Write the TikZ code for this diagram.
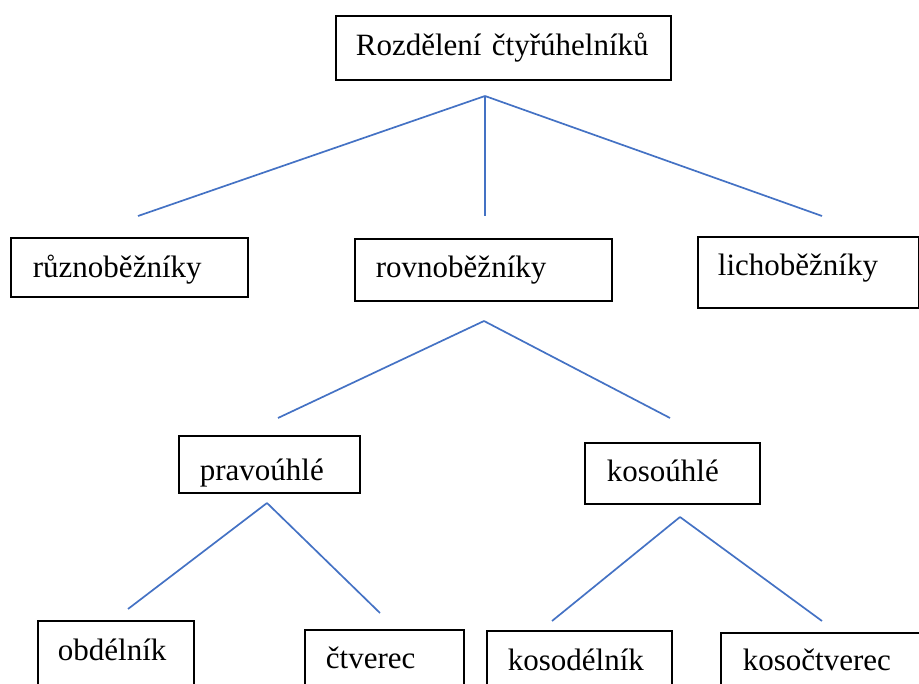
\documentclass[tikz,border=0pt]{standalone}
\usepackage{fontspec}
\setmainfont{Liberation Serif}
\usetikzlibrary{positioning}
\definecolor{linkblue}{HTML}{4472C4}
\newcommand{\catfont}{\fontsize{31}{36}\selectfont}

\begin{document}
\begin{tikzpicture}[x=1pt, y=-1pt,
		catbox/.style={draw, line width=1.8pt, rectangle, anchor=north west,
			align=left, inner ysep=0pt, font=\catfont},
		link/.style={draw=linkblue, line width=1.7pt}]
		\useasboundingbox (0,0) rectangle (919,684);
		\clip (0,0) rectangle (919,684);
		% boxes
		\node[catbox, inner xsep=20pt, text width=295pt, text height=40pt, text depth=24pt]
			(root) at (335,15) {Rozdělení čtyřúhelníků};
		\node[catbox, inner xsep=22pt, text width=193pt, text height=40pt, text depth=19pt]
			(ruzno) at (10,237) {různoběžníky};
		\node[catbox, inner xsep=21pt, text width=215pt, text height=39pt, text depth=23pt]
			(rovno) at (354,238) {rovnoběžníky};
		\node[catbox, inner xsep=20pt, text width=181pt, text height=39pt, text depth=32pt]
			(licho) at (697,236) {lichoběžníky};
		\node[catbox, inner xsep=21pt, text width=139pt, text height=45pt, text depth=12pt]
			(pravo) at (178,435) {pravoúhlé};
		\node[catbox, inner xsep=22pt, text width=131pt, text height=39pt, text depth=22pt]
			(koso) at (584,442) {kosoúhlé};
		\node[catbox, inner xsep=20pt, text width=116pt, text height=40pt, text depth=40pt]
			(obdel) at (37,620) {obdélník};
		\node[catbox, inner xsep=21pt, text width=117pt, text height=39pt, text depth=40pt]
			(ctverec) at (304,629) {čtverec};
		\node[catbox, inner xsep=21pt, text width=143pt, text height=40pt, text depth=40pt]
			(kosodel) at (486,630) {kosodélník};
		\node[catbox, inner xsep=22pt, text width=176pt, text height=38pt, text depth=40pt]
			(kosoct) at (720,632) {kosočtverec};
		% forks
		\coordinate (fork1) at (485,96);
		\coordinate (to11) at (138,216);
		\coordinate (to12) at (485,216);
		\coordinate (to13) at (822,216);
		\coordinate (fork2) at (484,321);
		\coordinate (to21) at (278,418);
		\coordinate (to22) at (670,418);
		\coordinate (fork3) at (267,503);
		\coordinate (to31) at (128,609);
		\coordinate (to32) at (380,613);
		\coordinate (fork4) at (680,517);
		\coordinate (to41) at (552,621);
		\coordinate (to42) at (822,621);
		\path[link]
		(fork1) edge (to11)
		(fork1) edge (to12)
		(fork1) edge (to13)
		(fork2) edge (to21)
		(fork2) edge (to22)
		(fork3) edge (to31)
		(fork3) edge (to32)
		(fork4) edge (to41)
		(fork4) edge (to42)
		;
\end{tikzpicture}
\end{document}
